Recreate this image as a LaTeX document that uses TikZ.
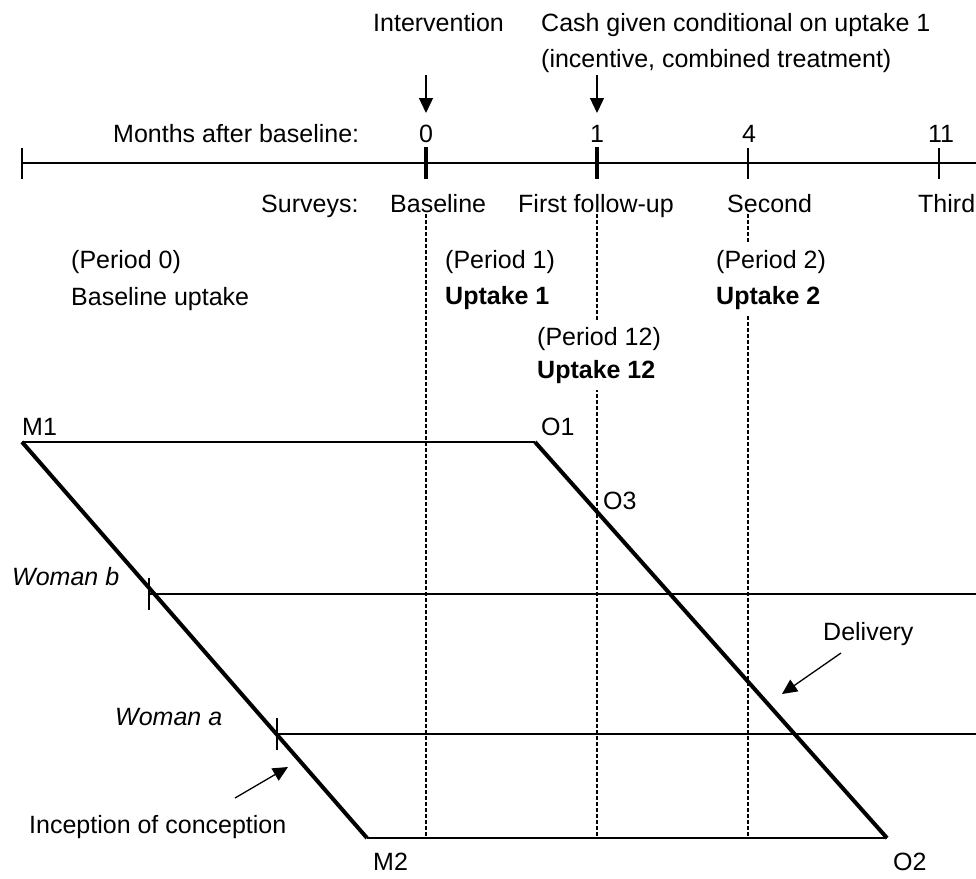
\documentclass[tikz,border=0pt]{standalone}
\usepackage{fontspec}
\setmainfont{Liberation Sans}
\usetikzlibrary{arrows.meta}
\tikzset{
  txt/.style={font=\fontsize{25}{30}\selectfont, inner sep=0pt, anchor=base west},
  ctxt/.style={font=\fontsize{25}{30}\selectfont, inner sep=0pt, anchor=base},
  wtxt/.style={txt, fill=white, inner xsep=3pt, inner ysep=7pt, text height=18pt, text depth=5pt},
  thickln/.style={line width=4pt},
  midln/.style={line width=2.6pt},
  thinln/.style={line width=2pt},
  guide/.style={line width=1.3pt, dash pattern=on 4pt off 2pt},
  arr/.style={line width=1.3pt, -{Triangle[length=15pt,width=14pt]}},
}
\begin{document}
\begin{tikzpicture}[x=1pt,y=-1pt]
\useasboundingbox (0,0) rectangle (976,878);

% coordinates of the main figure
\coordinate (M1) at (22,442);
\coordinate (O1) at (535,442);
\coordinate (M2) at (367,838);
\coordinate (O2) at (887,838);

% dashed guides
\foreach \x/\n in {426/g0,597/g1,748/g2}{
  \coordinate (\n top) at (\x,214);
  \coordinate (\n bot) at (\x,838);
  \draw[guide] (\n top) -- (\n bot);
}

% top texts
\node[txt] (interv) at (373,31) {Intervention};
\node[txt] (cash) at (541,31) {Cash given conditional on uptake 1};
\node[txt] (incent) at (541,67) {(incentive, combined treatment)};

% arrows down
\coordinate (a0s) at (426,75);
\coordinate (a0e) at (426,113);
\coordinate (a1s) at (597,75);
\coordinate (a1e) at (597,113);
\draw[arr] (a0s) -- (a0e);
\draw[arr] (a1s) -- (a1e);

% timeline
\coordinate (tlL) at (22,163);
\coordinate (tlR) at (976,163);
\draw[midln] (tlL) -- (tlR);
\foreach \x/\n in {22/tA,748/tC,939/tD}{
  \coordinate (\n u) at (\x,148);
  \coordinate (\n d) at (\x,179);
  \draw[thinln] (\n u) -- (\n d);
}
\foreach \x/\n in {426/tE,597/tF}{
  \coordinate (\n u) at (\x,147);
  \coordinate (\n d) at (\x,179);
  \draw[line width=4.7pt] (\n u) -- (\n d);
}

\node[txt] (months) at (113,142) {Months after baseline:};
\node[ctxt] (m0) at (426,142) {0};
\node[ctxt] (m1) at (597,142) {1};
\node[ctxt] (m4) at (749,142) {4};
\node[ctxt] (m11) at (941,142) {11};

\node[txt] (surveys) at (261,212) {Surveys:};
\node[txt] (sBase) at (390,212) {Baseline};
\node[txt] (sFirst) at (518,212) {First follow-up};
\node[txt] (sSecond) at (727,212) {Second};
\node[txt] (sThird) at (918,212) {Third};

% period labels
\node[wtxt] (p0) at (68,268) {(Period 0)};
\node[wtxt] (u0) at (68,305) {Baseline uptake};
\node[wtxt] (p1) at (442,268) {(Period 1)};
\node[wtxt] (u1) at (442,304) {\bfseries Uptake 1};
\node[wtxt] (p2) at (713,268) {(Period 2)};
\node[wtxt] (u2) at (713,304) {\bfseries Uptake 2};
\node[wtxt] (p12) at (534,345) {(Period 12)};
\node[wtxt] (u12) at (534,378) {\bfseries Uptake 12};

% main parallelogram
\draw[thinln] (M1) -- (O1);
\draw[thickln] (M1) -- (M2);
\draw[thickln] (O1) -- (O2);
\draw[midln] (M2) -- (O2);

\node[txt] (lM1) at (22,435) {M1};
\node[txt] (lO1) at (541,435) {O1};
\node[txt] (lO3) at (603,509) {O3};
\node[txt] (lM2) at (373,870) {M2};
\node[txt] (lO2) at (893,870) {O2};

% women
\coordinate (wbT) at (149,578);
\coordinate (wbB) at (149,610);
\coordinate (wbS) at (149,594);
\coordinate (wbE) at (976,594);
\draw[midln] (wbT) -- (wbB);
\draw[midln] (wbS) -- (wbE);
\coordinate (waT) at (277,718);
\coordinate (waB) at (277,750);
\coordinate (waS) at (277,734);
\coordinate (waE) at (976,734);
\draw[thinln] (waT) -- (waB);
\draw[thinln] (waS) -- (waE);
\node[txt] (wb) at (12,585) {\itshape Woman b};
\node[txt] (wa) at (115,725) {\itshape Woman a};

% annotations
\node[txt] (deliv) at (823,640) {Delivery};
\coordinate (dS) at (841,653);
\coordinate (dE) at (782,694);
\draw[arr] (dS) -- (dE);
\node[txt] (incep) at (29,833) {Inception of conception};
\coordinate (iS) at (235,798);
\coordinate (iE) at (288,767);
\draw[arr] (iS) -- (iE);
\end{tikzpicture}
\end{document}
